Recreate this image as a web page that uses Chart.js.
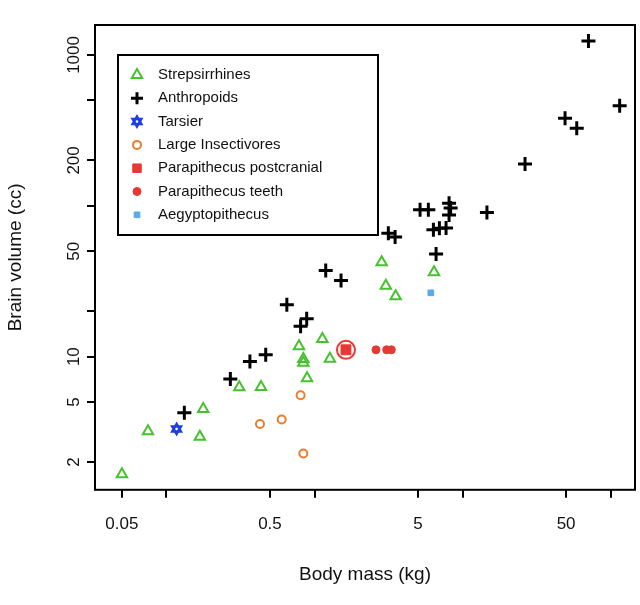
<!DOCTYPE html>
<html>
<head>
<meta charset="utf-8">
<script src="https://cdn.jsdelivr.net/npm/chart.js@4"></script>
<style>
  body { margin: 0; background: #fff; }
  #wrap { width: 640px; height: 605px; }
</style>
</head>
<body>
<div id="wrap"><canvas id="chart"></canvas></div>
<script>
// Log-log body mass (kg) vs brain volume (cc)
const strepsirrhines = [
  [0.05, 1.66], [0.075, 3.2], [0.168, 2.94], [0.177, 4.5], [0.31, 6.27], [0.435, 6.3],
  [0.785, 11.7], [0.84, 9.66], [0.84, 9.1], [1.13, 13.1], [1.27, 9.7], [0.89, 7.2],
  [2.84, 42.2], [3.03, 29.5], [3.53, 25.1], [6.41, 36.2]
];
const anthropoids = [
  [0.132, 4.24], [0.27, 7.1], [0.366, 9.3], [0.468, 10.3], [0.65, 22.1], [0.885, 17.8],
  [0.805, 15.9], [1.19, 37.3], [1.51, 32], [3.15, 65.9], [3.5, 62], [5.16, 94], [5.87, 94],
  [8.1, 104], [8.3, 96.6], [8.1, 87], [6.35, 69.4], [6.97, 71], [7.73, 71.2], [6.62, 48],
  [14.6, 90.4], [26.4, 189], [49.2, 381], [59, 327], [115, 461], [70.8, 1238]
];
const tarsier = [[0.117, 3.32]];
const insectivores = [[0.428, 3.58], [0.6, 3.83], [0.805, 5.54], [0.84, 2.28]];
const paraPostcranial = [[1.63, 11.1]];
const paraTeeth = [[2.6, 11.1], [3.07, 11.1], [3.3, 11.1]];
const aegyptopithecus = [[6.1, 26.5]];

const xTicks = [0.05, 0.1, 0.5, 1, 5, 10, 50, 100];
const xLabels = [0.05, 0.5, 5, 50];
const yTicks = [2, 5, 10, 20, 50, 100, 200, 500, 1000];
const yLabels = [2, 5, 10, 50, 200, 1000];

const toPts = arr => arr.map(p => ({ x: p[0], y: p[1] }));
const green = '#45c22e';

const series = [
  { label: 'Strepsirrhines', data: toPts(strepsirrhines), pointStyle: 'triangle', pointRadius: 6,
    borderColor: green, backgroundColor: 'rgba(0,0,0,0)', pointBorderWidth: 2 },
  { label: 'Anthropoids', data: toPts(anthropoids), pointStyle: 'cross', pointRadius: 7,
    borderColor: '#000', backgroundColor: '#000', pointBorderWidth: 3 },
  { label: 'Tarsier', data: toPts(tarsier), pointStyle: 'triangle', pointRadius: 5,
    borderColor: '#1f3fe0', backgroundColor: 'rgba(0,0,0,0)', pointBorderWidth: 2.5 },
  { label: 'Large Insectivores', data: toPts(insectivores), pointStyle: 'circle', pointRadius: 4,
    borderColor: '#ea7d2c', backgroundColor: 'rgba(0,0,0,0)', pointBorderWidth: 2 },
  { label: 'Parapithecus postcranial', data: toPts(paraPostcranial), pointStyle: 'rect', pointRadius: 7,
    borderColor: '#e53935', backgroundColor: '#e53935', pointBorderWidth: 1 },
  { label: 'Parapithecus teeth', data: toPts(paraTeeth), pointStyle: 'circle', pointRadius: 4,
    borderColor: '#e53935', backgroundColor: '#e53935', pointBorderWidth: 1 },
  { label: 'Aegyptopithecus', data: toPts(aegyptopithecus), pointStyle: 'rect', pointRadius: 4,
    borderColor: '#5aa9ec', backgroundColor: '#5aa9ec', pointBorderWidth: 1 },
  // second triangle of the tarsier star (not in legend)
  { label: '_tarsier2', data: toPts(tarsier), pointStyle: 'triangle', pointRadius: 5, rotation: 180,
    borderColor: '#1f3fe0', backgroundColor: 'rgba(0,0,0,0)', pointBorderWidth: 2.5 },
  // ring on the postcranial mark (not in legend)
  { label: '_pc2', data: toPts(paraPostcranial), pointStyle: 'circle', pointRadius: 9,
    borderColor: '#e53935', backgroundColor: 'rgba(0,0,0,0)', pointBorderWidth: 2 }
];

const FONT = '"Liberation Sans", Arial, sans-serif';

const framePlugin = {
  id: 'frame',
  afterDraw(chart) {
    const { ctx, chartArea: a, scales } = chart;
    ctx.save();
    ctx.strokeStyle = '#000';
    ctx.lineWidth = 2;
    ctx.strokeRect(a.left, a.top, a.right - a.left, a.bottom - a.top);
    // rotated y tick labels
    ctx.fillStyle = '#111';
    ctx.font = '17px ' + FONT;
    ctx.textAlign = 'center';
    ctx.textBaseline = 'bottom';
    yLabels.forEach(v => {
      const y = scales.y.getPixelForValue(v);
      ctx.save();
      ctx.translate(a.left - 12, y);
      ctx.rotate(-Math.PI / 2);
      ctx.fillText(String(v), 0, 0);
      ctx.restore();
    });
    // legend box
    const lx = 118, ly = 55, lw = 260, lh = 180;
    ctx.lineWidth = 2;
    ctx.strokeRect(lx, ly, lw, lh);
    ctx.font = '15px ' + FONT;
    ctx.textAlign = 'left';
    ctx.textBaseline = 'middle';
    series.filter(s => !s.label.startsWith('_')).forEach((s, i) => {
      const cy = ly + 20 + i * 23.3;
      const cx = lx + 19;
      const r = Math.min(s.pointRadius, 6);
      ctx.strokeStyle = s.borderColor;
      ctx.fillStyle = s.backgroundColor;
      ctx.lineWidth = s.pointBorderWidth;
      Chart.helpers.drawPoint(ctx, { pointStyle: s.pointStyle, radius: r, borderWidth: s.pointBorderWidth, rotation: 0 }, cx, cy);
      if (s.label === 'Tarsier') {
        Chart.helpers.drawPoint(ctx, { pointStyle: 'triangle', radius: r, borderWidth: 2.5, rotation: 180 }, cx, cy);
      }
      ctx.fillStyle = '#111';
      ctx.fillText(s.label, lx + 40, cy);
    });
    ctx.restore();
  }
};

const tickGrid = { display: true, drawOnChartArea: false, drawTicks: true, tickLength: 8, lineWidth: 2, color: '#000' };

new Chart(document.getElementById('chart'), {
  type: 'scatter',
  data: { datasets: series },
  options: {
    responsive: true,
    maintainAspectRatio: false,
    animation: false,
    layout: { autoPadding: false, padding: { top: 25, right: 5, left: 0, bottom: 15 } },
    plugins: { legend: { display: false }, tooltip: { enabled: false } },
    scales: {
      x: {
        type: 'logarithmic',
        min: 0.0329, max: 146,
        afterBuildTicks: s => { s.ticks = xTicks.map(v => ({ value: v })); },
        grid: tickGrid,
        border: { display: false },
        ticks: {
          color: '#111', font: { family: FONT, size: 17 }, maxRotation: 0, autoSkip: false, padding: 16,
          callback: v => xLabels.includes(v) ? String(v) : ''
        },
        title: { display: true, text: 'Body mass (kg)', color: '#111', font: { family: FONT, size: 19 },
          padding: { top: 13, bottom: 4 } }
      },
      y: {
        type: 'logarithmic',
        min: 1.31, max: 1580,
        afterBuildTicks: s => { s.ticks = yTicks.map(v => ({ value: v })); },
        afterFit: s => { s.width = 95; },
        grid: tickGrid,
        border: { display: false },
        ticks: { color: 'rgba(0,0,0,0)', font: { family: FONT, size: 17 }, autoSkip: false,
          callback: v => yLabels.includes(v) ? String(v) : '' },
        title: { display: true, text: 'Brain volume (cc)', color: '#111', font: { family: FONT, size: 19 } }
      }
    }
  },
  plugins: [framePlugin]
});
</script>
</body>
</html>
